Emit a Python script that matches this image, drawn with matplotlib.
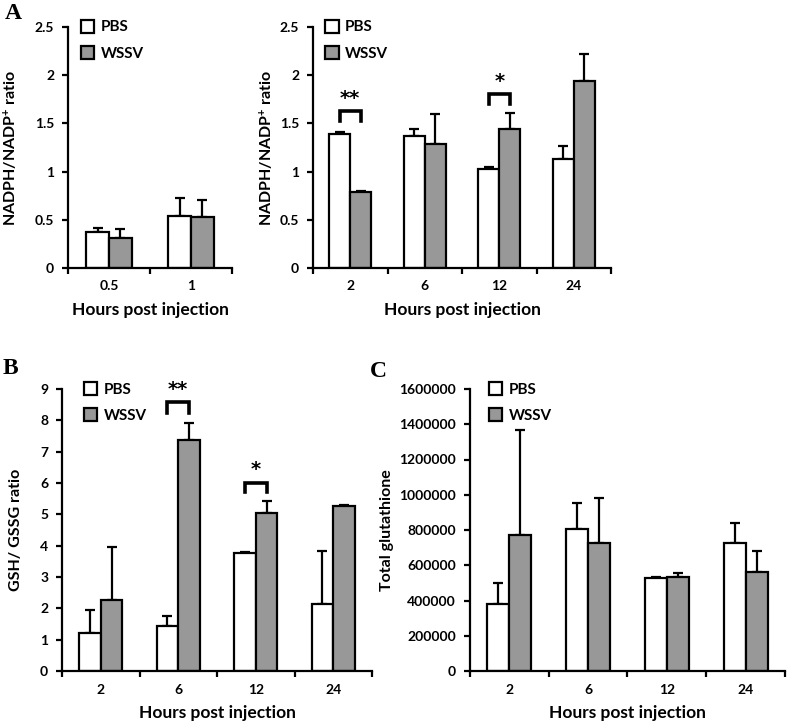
import numpy as np
import matplotlib
matplotlib.use("Agg")
import matplotlib.pyplot as plt
from matplotlib.patches import Patch

plt.rcParams['font.family'] = ['Lato', 'DejaVu Sans']
plt.rcParams['font.weight'] = 'bold'
plt.rcParams['mathtext.default'] = 'regular'

# ---------------- data ----------------
a1_cats = ["0.5", "1"]
a1_pbs = [0.37, 0.54]
a1_pbs_err = [0.04, 0.19]
a1_wssv = [0.31, 0.53]
a1_wssv_err = [0.09, 0.18]

a2_cats = ["2", "6", "12", "24"]
a2_pbs = [1.39, 1.37, 1.03, 1.13]
a2_pbs_err = [0.02, 0.07, 0.02, 0.14]
a2_wssv = [0.79, 1.29, 1.445, 1.94]
a2_wssv_err = [0.01, 0.31, 0.165, 0.28]

b_cats = ["2", "6", "12", "24"]
b_pbs = [1.22, 1.43, 3.77, 2.15]
b_pbs_err = [0.72, 0.32, 0.02, 1.69]
b_wssv = [2.26, 7.38, 5.03, 5.27]
b_wssv_err = [1.71, 0.53, 0.41, 0.02]

c_cats = ["2", "6", "12", "24"]
c_pbs = [378000, 806000, 526000, 729000]
c_pbs_err = [123000, 150000, 10000, 113000]
c_wssv = [772000, 729000, 532000, 560000]
c_wssv_err = [593000, 255000, 23000, 121000]

# significance annotations: (category index, bracket top, leg bottom, label)
a2_sig = [(0, 1.63, 1.52, "**"), (2, 1.81, 1.70, "*")]
b_sig = [(1, 8.58, 8.22, "**"), (2, 6.01, 5.70, "*")]

series_names = ["PBS", "WSSV"]
colors = ["white", "#989898"]

W, H = 787, 726
fig = plt.figure(figsize=(W / 100, H / 100), dpi=100)


def px_axes(l, r, t, b):
    return fig.add_axes([l / W, 1 - b / H, (r - l) / W, (b - t) / H])


BW = 0.28
LW = 1.6


def draw(ax, cats, pbs, pbs_err, wssv, wssv_err, ymax, ystep, ylabel, sig=None,
         ylabel_x=10, legend_anchor=(0.04, 1.055)):
    n = len(cats)
    x = np.arange(n)
    for i, (vals, errs) in enumerate([(pbs, pbs_err), (wssv, wssv_err)]):
        xs = x + (i - 0.5) * BW
        ax.bar(xs, vals, width=BW, color=colors[i], edgecolor='black',
               linewidth=LW, zorder=2, label=series_names[i])
        ax.errorbar(xs, vals, yerr=[np.zeros(n), errs], fmt='none',
                    ecolor='black', elinewidth=LW, capsize=3.5, capthick=LW,
                    zorder=1)
    ax.set_xlim(-0.5, n - 0.5)
    ax.set_ylim(0, ymax)
    ax.set_xticks(x)
    ax.set_xticklabels(cats, fontweight='bold', fontsize=10)
    ax.set_xticks(np.arange(n + 1) - 0.5, minor=True)
    ax.tick_params(axis='x', which='major', length=0, pad=9)
    ax.tick_params(axis='x', which='minor', length=4, width=LW, direction='out')
    yt = np.arange(0, ymax + ystep / 2, ystep)
    ax.set_yticks(yt)
    ax.set_yticklabels([f"{v:g}" if v < 1e5 else f"{int(v)}" for v in yt],
                       fontweight='bold', fontsize=10)
    ax.tick_params(axis='y', length=4, width=LW, direction='out', pad=6)
    for s in ['top', 'right']:
        ax.spines[s].set_visible(False)
    for s in ['left', 'bottom']:
        ax.spines[s].set_linewidth(LW)
    ax.set_xlabel("Hours post injection", fontsize=12.5, fontweight='bold',
                  labelpad=7)
    pos = ax.get_position()
    fig.text(ylabel_x / W, pos.y0 + pos.height / 2, ylabel, rotation=90,
             ha='center', va='center', fontsize=11.5, fontweight='bold')
    ax.patch.set_alpha(0)
    if sig:
        for ci, top, bot, lab in sig:
            x0 = ci - BW / 2
            x1 = ci + BW / 2
            ax.plot([x0, x0, x1, x1], [bot, top, top, bot], color='black',
                    lw=2.6, solid_joinstyle='miter', clip_on=False)
            ax.text(ci, top + ymax * 0.012, lab, ha='center', va='bottom',
                    fontsize=14, fontweight='bold', family='DejaVu Sans')
    handles = [Patch(facecolor=colors[i], edgecolor='black', linewidth=LW,
                     label=series_names[i]) for i in range(2)]
    ax.legend(handles=handles, loc='upper left', bbox_to_anchor=legend_anchor,
              frameon=False, handlelength=0.9, handleheight=0.9,
              handletextpad=0.4, labelspacing=0.75, fontsize=11,
              borderaxespad=0)


ax1 = px_axes(68, 232, 27, 268)
draw(ax1, a1_cats, a1_pbs, a1_pbs_err, a1_wssv, a1_wssv_err, 2.5, 0.5,
     "NADPH/NADP$^{+}$ ratio", ylabel_x=11, legend_anchor=(0.04, 1.055))

ax2 = px_axes(313, 611, 27, 268)
draw(ax2, a2_cats, a2_pbs, a2_pbs_err, a2_wssv, a2_wssv_err, 2.5, 0.5,
     "NADPH/NADP$^{+}$ ratio", sig=a2_sig, ylabel_x=267,
     legend_anchor=(0.02, 1.055))

ax3 = px_axes(62, 372, 389, 671)
draw(ax3, b_cats, b_pbs, b_pbs_err, b_wssv, b_wssv_err, 9, 1,
     "GSH/ GSSG ratio", sig=b_sig, ylabel_x=16, legend_anchor=(0.05, 1.045))

ax4 = px_axes(470, 785, 389, 671)
draw(ax4, c_cats, c_pbs, c_pbs_err, c_wssv, c_wssv_err, 1600000, 200000,
     "Total glutathione", ylabel_x=387, legend_anchor=(0.04, 1.045))

for lab, xp, yp in [("A", 5, 3), ("B", 3, 358), ("C", 370, 361)]:
    fig.text(xp / W, 1 - yp / H, lab, ha='left', va='top', fontsize=17,
             fontweight='bold', family='Liberation Serif')

fig.savefig("out.png", dpi=100)
